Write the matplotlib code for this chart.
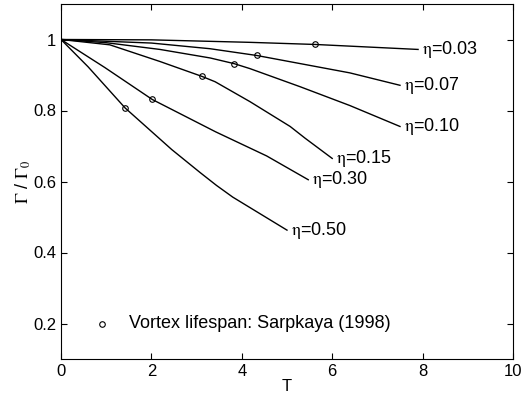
import numpy as np
import matplotlib
matplotlib.use('Agg')
from matplotlib import pyplot as plt

plt.rcParams['font.family'] = ['Liberation Sans', 'DejaVu Sans']
plt.rcParams['mathtext.fontset'] = 'stix'

# curves: T and Gamma/Gamma0 for each eta
eta_labels = ['0.03', '0.07', '0.10', '0.15', '0.30', '0.50']
t_003 = [0, 2.0, 4.18, 5.63, 7.9]
g_003 = [1.0, 0.999, 0.992, 0.986, 0.972]
t_007 = [0, 2.0, 3.3, 4.33, 6.39, 7.5]
g_007 = [1.0, 0.990, 0.974, 0.955, 0.906, 0.871]
t_010 = [0, 1.0, 2.19, 3.3, 3.83, 4.18, 5.29, 6.39, 7.5]
g_010 = [1.0, 0.991, 0.972, 0.948, 0.932, 0.918, 0.867, 0.814, 0.755]
t_015 = [0, 1.08, 2.19, 3.12, 3.41, 4.18, 5.07, 5.4, 6.0]
g_015 = [1.0, 0.985, 0.938, 0.896, 0.881, 0.825, 0.755, 0.722, 0.665]
t_030 = [0, 0.97, 2.02, 3.42, 4.55, 5.47]
g_030 = [1.0, 0.921, 0.831, 0.74, 0.672, 0.605]
t_050 = [0, 0.6, 1.42, 2.45, 3.08, 3.44, 3.8, 5.0]
g_050 = [1.0, 0.923, 0.807, 0.690, 0.625, 0.589, 0.556, 0.463]

# Sarpkaya (1998) vortex lifespan points
sarp_t = [5.63, 4.33, 3.83, 3.12, 2.02, 1.42]
sarp_g = [0.986, 0.955, 0.932, 0.896, 0.831, 0.807]

curves = [(t_003, g_003), (t_007, g_007), (t_010, g_010),
          (t_015, g_015), (t_030, g_030), (t_050, g_050)]

fig = plt.figure(figsize=(5.24, 4.0), dpi=100)
ax = fig.add_axes([0.1164, 0.1025, 0.8626, 0.8875])

for (t, g), lab in zip(curves, eta_labels):
    ax.plot(t, g, color='black', lw=1.0)
    ax.annotate('$\\mathrm{\\eta}$=' + lab, xy=(t[-1], g[-1]), xytext=(3, 0),
                textcoords='offset points', va='center', ha='left', fontsize=13)

ax.plot(sarp_t, sarp_g, 'o', mfc='none', mec='black', ms=4, mew=0.8)

# legend entry drawn by hand
ax.plot([0.9], [0.2], 'o', mfc='none', mec='black', ms=4, mew=0.8)
ax.text(1.5, 0.2, 'Vortex lifespan: Sarpkaya (1998)', va='center', fontsize=13)

ax.set_xlim(0, 10)
ax.set_ylim(0.1, 1.1)
ax.set_xticks([0, 2, 4, 6, 8, 10])
ax.set_yticks([0.2, 0.4, 0.6, 0.8, 1.0])
ax.set_yticklabels(['0.2', '0.4', '0.6', '0.8', '1'])
ax.tick_params(direction='in', top=True, right=True, labelsize=12, length=4)
ax.set_xlabel('T', fontsize=12, labelpad=0)
ax.set_ylabel('$\\Gamma$ / $\\Gamma_0$', fontsize=13, labelpad=0)

plt.savefig('out.png', dpi=100)
